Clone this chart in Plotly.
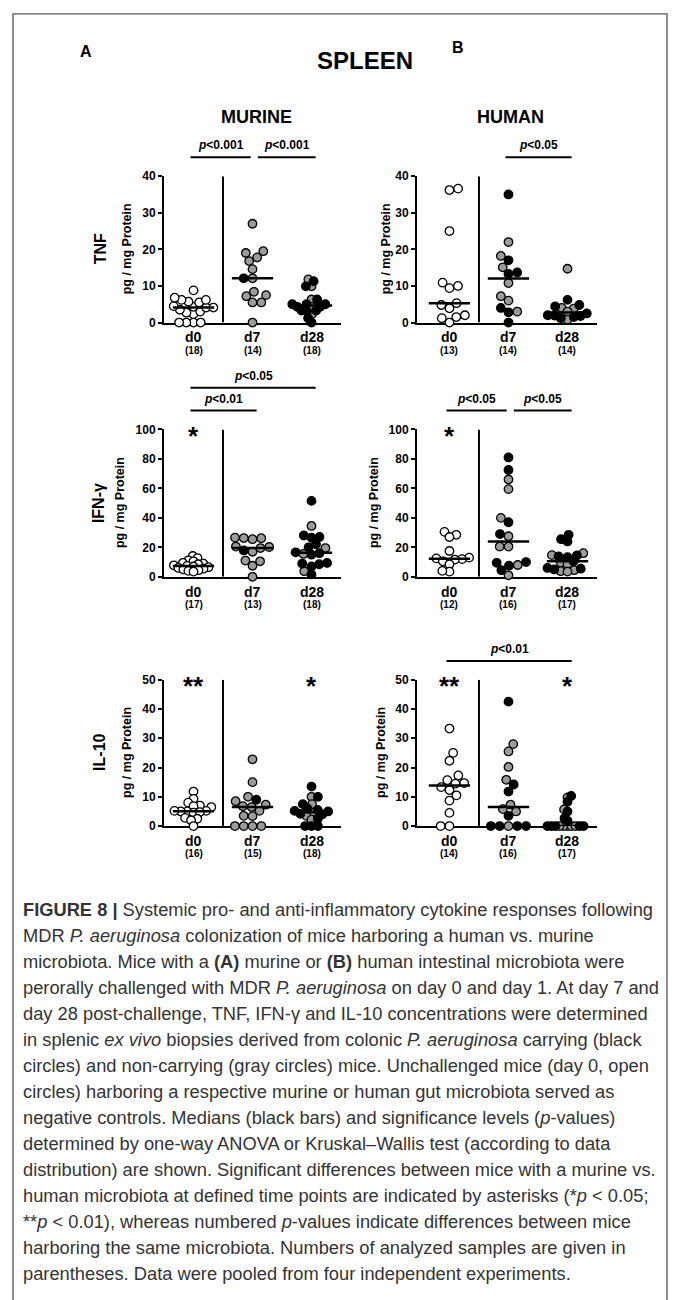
import numpy as np
import plotly.graph_objects as go

W, H = 675, 1300

days = ["d0", "d7", "d28"]

# ---------------- data (pg / mg protein) ----------------
# Murine microbiota
m_tnf_d0_open = [0, 0, 0, 0, 2.3, 2.7, 3.0, 3.5, 4.1, 4.1, 4.3, 4.5, 5.5, 5.7, 6.2, 6.2, 6.8, 8.8]
m_tnf_d7_gray = [27, 19, 19.5, 17.8, 16.8, 14.6, 12.1, 7.5, 8.4, 7.2, 5.5, 5.5, 0]
m_tnf_d7_black = [12.1]
m_tnf_d28_gray = [11.8, 9.9, 6.3, 2.3, 4.3]
m_tnf_d28_black = [9.9, 11.3, 5, 5, 5, 6.3, 4.3, 3.3, 3.3, 1.2, 0, 4.3, 3.0]
m_tnf_n = [18, 14, 18]

m_ifn_d0_open = [14.1, 12.7, 11.2, 10.5, 9.4, 9.0, 8.5, 7.8, 7.4, 7.0, 6.5, 6.0, 5.5, 5.0, 4.5, 4.0, 3.5]
m_ifn_d7_gray = [26.6, 26.2, 25.5, 26.3, 20.5, 17.0, 19.5, 20.2, 11, 10.5, 7.5, 0]
m_ifn_d7_black = [17.9]
m_ifn_d28_gray = [34.5, 19.5, 15.5, 3.8]
m_ifn_d28_black = [51.5, 28, 27, 26.5, 22, 20, 16.6, 16, 15, 9.4, 9, 8.5, 7, 1.6]
m_ifn_n = [17, 13, 18]

m_il10_d0_open = [11.8, 9.3, 8, 7, 6.5, 6.8, 5, 5.2, 4.6, 4.8, 5, 5.2, 2.5, 2.8, 2, 0]
m_il10_d7_gray = [22.8, 15, 10, 8.5, 7.3, 6.8, 6.5, 5.2, 3.5, 3.4, 0, 0, 0, 0]
m_il10_d7_black = [9]
m_il10_d28_gray = [10, 7.5, 4.5, 3.5, 2.2]
m_il10_d28_black = [13.5, 10, 7.5, 6, 5.5, 5.2, 5, 4.2, 4.0, 2.5, 0, 0, 0]
m_il10_n = [16, 15, 18]

# Human microbiota
h_tnf_d0_open = [36.2, 36.6, 25, 10.9, 9.4, 10.0, 5.3, 4.8, 3.9, 1.5, 1.2, 2.0, 0]
h_tnf_d7_gray = [22, 18.2, 15.1, 10.8, 7.2, 6.0, 3.0]
h_tnf_d7_black = [35, 17, 13.7, 13.3, 2.8, 4.0, 0]
h_tnf_d28_gray = [14.7, 4.0, 3.8, 3.0, 0.8]
h_tnf_d28_black = [4.8, 4.4, 6.2, 1.8, 1.5, 1.2, 2.0, 1.9, 2.5]
h_tnf_n = [13, 14, 14]

h_ifn_d0_open = [30.5, 28.5, 27, 17.5, 13, 12.5, 12, 11.7, 10.5, 8.5, 3.5, 4]
h_ifn_d7_gray = [66, 59.5, 40, 27.5, 20.5, 20.5, 8, 1]
h_ifn_d7_black = [81, 72.5, 37, 29, 9.5, 7.5, 10, 4.5]
h_ifn_d28_gray = [16, 14.7, 9.5, 8.5, 4.5, 3.8, 3.5]
h_ifn_d28_black = [28.5, 25.5, 24, 14.5, 13.8, 13.3, 10.5, 6, 5.5, 5]
h_ifn_n = [12, 16, 17]

h_il10_d0_open = [33.3, 25, 22.3, 17.3, 15.7, 14.7, 13.3, 14.5, 10.5, 12.3, 8.7, 4.5, 0, 0]
h_il10_d7_gray = [28, 25.5, 20.2, 15.8, 7.3, 5, 5.8, 0]
h_il10_d7_black = [42.5, 14.2, 11.8, 3.5, 0, 0, 0, 0]
h_il10_d28_gray = [9.8, 5.7, 0, 0, 0, 0, 0]
h_il10_d28_black = [10.3, 8.3, 5, 1.8, 2.7, 0, 0, 0, 0, 0]
h_il10_n = [14, 16, 17]

# y-axis ticks
tnf_ticks = [0, 10, 20, 30, 40]
ifn_ticks = [0, 20, 40, 60, 80, 100]
il10_ticks = [0, 10, 20, 30, 40, 50]

# significance: (panel, from-day index, to-day index, label, level)
sig_bars = [
    ("m_tnf", 0, 1, "p<0.001", 0), ("m_tnf", 1, 2, "p<0.001", 0),
    ("h_tnf", 1, 2, "p<0.05", 0),
    ("m_ifn", 0, 2, "p<0.05", 1), ("m_ifn", 0, 1, "p<0.01", 0),
    ("h_ifn", 0, 1, "p<0.05", 0), ("h_ifn", 1, 2, "p<0.05", 0),
    ("h_il10", 0, 2, "p<0.01", 0),
]
# asterisks: (panel, day index, label)
stars = [("m_ifn", 0, "*"), ("h_ifn", 0, "*"),
         ("m_il10", 0, "**"), ("m_il10", 2, "*"),
         ("h_il10", 0, "**"), ("h_il10", 2, "*")]

caption_lines = [
    "<b>FIGURE 8 |</b> Systemic pro- and anti-inflammatory cytokine responses following",
    "MDR <i>P. aeruginosa</i> colonization of mice harboring a human vs. murine",
    "microbiota. Mice with a <b>(A)</b> murine or <b>(B)</b> human intestinal microbiota were",
    "perorally challenged with MDR <i>P. aeruginosa</i> on day 0 and day 1. At day 7 and",
    "day 28 post-challenge, TNF, IFN-γ and IL-10 concentrations were determined",
    "in splenic <i>ex vivo</i> biopsies derived from colonic <i>P. aeruginosa</i> carrying (black",
    "circles) and non-carrying (gray circles) mice. Unchallenged mice (day 0, open",
    "circles) harboring a respective murine or human gut microbiota served as",
    "negative controls. Medians (black bars) and significance levels (<i>p</i>-values)",
    "determined by one-way ANOVA or Kruskal–Wallis test (according to data",
    "distribution) are shown. Significant differences between mice with a murine vs.",
    "human microbiota at defined time points are indicated by asterisks (*<i>p</i> &lt; 0.05;",
    "**<i>p</i> &lt; 0.01), whereas numbered <i>p</i>-values indicate differences between mice",
    "harboring the same microbiota. Numbers of analyzed samples are given in",
    "parentheses. Data were pooled from four independent experiments.",
]

# ---------------- layout geometry (pixels) ----------------
col_px = {"m": (164, 341, -0.5), "h": (417, 597, -0.55)}
ytitle_px = {"m_tnf": 127, "m_ifn": 120, "m_il10": 127,
             "h_tnf": 386, "h_ifn": 374, "h_il10": 381}
rowlab_px = {"tnf": 100, "ifn": 98, "il10": 100}
row_px = {"tnf": (171, 319, 40, tnf_ticks),
          "ifn": (427, 576, 100, ifn_ticks),
          "il10": (680, 828, 50, il10_ticks)}
row_label = {"tnf": "TNF", "ifn": "IFN-γ", "il10": "IL-10"}

FONT = "Liberation Sans"
OPEN, GRAY, BLACK = "white", "#9b9b9b", "black"
MS = 8.5        # marker size (px)
D = 8.8         # swarm spacing (px)
MAXW = 20       # max half-width of a swarm (px)


def px2py(p):
    return 1 - p / H


def swarm_px(vals, ppu_y, d):
    vals = np.asarray(vals, float)
    order = np.argsort(vals, kind="stable")
    placed = []
    xs = np.zeros(len(vals))
    for k, i in enumerate(order):
        y = vals[i] * ppu_y
        iv = []
        for (qx, qy) in placed:
            dy = abs(qy - y)
            if dy < d:
                w = np.sqrt(d * d - dy * dy)
                iv.append((qx - w, qx + w))
        cands = [0.0] + [a for a, b in iv] + [b for a, b in iv]
        valid = [c for c in cands if all(not (a + 1e-6 < c < b - 1e-6) for a, b in iv)]
        sgn = 1 if k % 2 else -1
        best = min(valid, key=lambda c: (round(abs(c), 2), sgn * c))
        xs[i] = best
        placed.append((best, y))
    return xs


def swarm(vals, ppu_y, ppu_x):
    d = D
    xs = swarm_px(vals, ppu_y, d)
    while np.max(np.abs(xs)) > MAXW and d > 3:
        d -= 0.4
        xs = swarm_px(vals, ppu_y, d)
    return xs / ppu_x


def anno(x, y, text, size, xref="paper", yref="paper", **kw):
    d = dict(x=x, y=y, xref=xref, yref=yref, text=text, showarrow=False,
             xanchor="center", yanchor="middle",
             font=dict(family=FONT, size=size, color="black"))
    d.update(kw)
    return d


data = globals()
fig = go.Figure()
shapes = []
annos = []
axis_idx = {}
idx = 0
for rk in ["tnf", "ifn", "il10"]:
    for ck in ["m", "h"]:
        idx += 1
        key = f"{ck}_{rk}"
        axis_idx[key] = idx
        x0p, x1p, xlo = col_px[ck]
        y0p, y1p, ymax, ticks = row_px[rk]
        xr = [xlo, 2.5]
        ppu_x = (x1p - x0p) / (xr[1] - xr[0])
        ppu_y = (y1p - y0p) / ymax
        xa = "x" if idx == 1 else f"x{idx}"
        ya = "y" if idx == 1 else f"y{idx}"
        sfx = "" if idx == 1 else str(idx)
        fig.layout["xaxis" + sfx] = dict(
            domain=[x0p / W, x1p / W], range=xr, anchor=ya, showgrid=False,
            zeroline=False, showline=True, linecolor="black", linewidth=2,
            ticks="", showticklabels=False, layer="below traces", fixedrange=True)
        fig.layout["yaxis" + sfx] = dict(
            domain=[px2py(y1p), px2py(y0p)], range=[0, ymax], anchor=xa,
            showgrid=False, zeroline=False, showline=True, linecolor="black",
            linewidth=2, ticks="outside", ticklen=4, tickwidth=2, tickcolor="black",
            tickvals=ticks, ticktext=[str(t) for t in ticks],
            tickfont=dict(family=FONT, size=12, color="black", weight="bold"),
            layer="below traces", fixedrange=True)
        for di, dname in enumerate(days):
            vals, cols = [], []
            for colname, fill in (("open", OPEN), ("gray", GRAY), ("black", BLACK)):
                nm = f"{key}_{dname}_{colname}"
                if nm in data:
                    vals += list(data[nm])
                    cols += [fill] * len(data[nm])
            offs = swarm(vals, ppu_y, ppu_x)
            fig.add_trace(go.Scatter(
                x=di + offs, y=vals, mode="markers", xaxis=xa, yaxis=ya,
                cliponaxis=False, showlegend=False, hoverinfo="y",
                marker=dict(size=MS, color=cols, line=dict(color="black", width=1.3))))
            med = float(np.median(vals))
            fig.add_trace(go.Scatter(
                x=[di - 0.35, di + 0.35], y=[med, med], mode="lines", xaxis=xa,
                yaxis=ya, cliponaxis=False, showlegend=False, hoverinfo="skip",
                line=dict(color="black", width=2.5)))
            n = data[f"{key}_n"][di]
            annos.append(anno(di, px2py(y1p + 15), f"<b>{dname}</b>", 14, xref=xa))
            annos.append(anno(di, px2py(y1p + 28), f"<b>({n})</b>", 10, xref=xa))
        shapes.append(dict(type="line", xref=xa, yref=ya, x0=0.5, x1=0.5, y0=0,
                           y1=ymax, line=dict(color="black", width=2)))
        annos.append(anno(ytitle_px[key] / W, px2py((y0p + y1p) / 2),
                          "<b>pg / mg Protein</b>", 12.5, textangle=-90))
        if ck == "m":
            annos.append(anno(rowlab_px[rk] / W, px2py((y0p + y1p) / 2),
                              f"<b>{row_label[rk]}</b>", 16, textangle=-90))

# significance bars
bar_y = {"tnf": [152], "ifn": [408, 385], "il10": [661]}
for key, a, b, lab, lvl in sig_bars:
    ck, rk = key.split("_")
    i = axis_idx[key]
    xa = "x" if i == 1 else f"x{i}"
    starts = {s_a for (k2, s_a, s_b, _, l2) in sig_bars if k2 == key and l2 == lvl}
    ends = {s_b for (k2, s_a, s_b, _, l2) in sig_bars if k2 == key and l2 == lvl}
    x0 = a + (0.09 if a in ends else -0.05)
    x1 = b + (-0.03 if b in starts else 0.07)
    yb = bar_y[rk][lvl]
    shapes.append(dict(type="line", xref=xa, yref="paper", x0=x0, x1=x1,
                       y0=px2py(yb), y1=px2py(yb), line=dict(color="black", width=2)))
    annos.append(anno((x0 + x1) / 2, px2py(yb - 3), "<b><i>p</i>&lt;" + lab[2:] + "</b>",
                      12, xref=xa, yanchor="bottom"))

for key, di, lab in stars:
    i = axis_idx[key]
    xa = "x" if i == 1 else f"x{i}"
    ya = "y" if i == 1 else f"y{i}"
    ymax = row_px[key.split("_")[1]][2]
    annos.append(anno(di, ymax * 0.955, f"<b>{lab}</b>", 26, xref=xa, yref=ya))

# headers
annos += [
    anno(86 / W, px2py(45), "<b>A</b>", 16),
    anno(458 / W, px2py(41), "<b>B</b>", 16),
    anno(365 / W, px2py(54), "<b>SPLEEN</b>", 24),
    anno(256 / W, px2py(111), "<b>MURINE</b>", 18),
    anno(510 / W, px2py(111), "<b>HUMAN</b>", 18),
]

# caption
for li, line in enumerate(caption_lines):
    annos.append(dict(x=21 / W, y=px2py(912 + 26.3 * li), xref="paper", yref="paper",
                      text=line, showarrow=False, xanchor="left", yanchor="middle",
                      font=dict(family=FONT, size=18.3, color="#333333")))

# frame
shapes.append(dict(type="rect", xref="paper", yref="paper", x0=13 / W, x1=667 / W,
                   y0=-0.02, y1=px2py(7), line=dict(color="#555555", width=1.3)))

fig.update_layout(width=W, height=H, margin=dict(l=0, r=0, t=0, b=0),
                  paper_bgcolor="white", plot_bgcolor="white",
                  shapes=shapes, annotations=annos, showlegend=False)
fig.write_html("out.html", config={"displayModeBar": False},
               post_script="document.body.style.margin='0';")
